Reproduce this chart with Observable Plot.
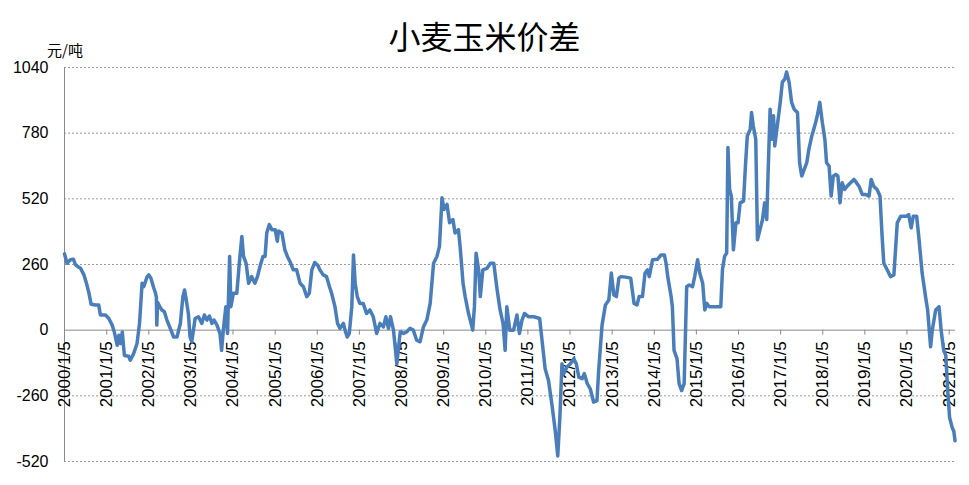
<!DOCTYPE html>
<html><head><meta charset="utf-8">
<script src="https://cdn.jsdelivr.net/npm/d3@7"></script>
<script src="https://cdn.jsdelivr.net/npm/@observablehq/plot@0.6"></script>
<style>
body{margin:0;background:#fff;font-family:"Liberation Sans",Arial,sans-serif;}
#wrap{width:969px;height:485px;position:relative;overflow:hidden;background:#fff}
#head{height:56px;position:relative}
#title{position:absolute;left:0;width:969px;top:17px;text-align:center;font-family:"Noto Sans CJK SC",sans-serif;font-size:32px;line-height:36px;color:#000}
#unit{position:absolute;left:47px;top:41px;font-family:"Noto Sans CJK SC",sans-serif;font-size:15px;line-height:18px;color:#000}
</style></head>
<body><div id="wrap"><div id="head"><div id="title">小麦玉米价差</div><div id="unit">元/吨</div></div><div id="chart"></div></div>
<script>
// decimal year, counted from 1/5 of each year
const years = [
2000.00,2000.06,2000.14,2000.21,2000.26,2000.34,2000.38,2000.46,2000.52,2000.58,2000.63,2000.73,2000.81,2000.85,2000.97,
2001.05,2001.13,2001.18,2001.25,2001.29,2001.33,2001.37,2001.42,2001.52,2001.56,2001.64,2001.72,2001.78,2001.84,2001.88,2001.96,
2002.00,2002.05,2002.12,2002.16,2002.18,2002.19,2002.21,2002.26,2002.31,2002.37,2002.43,2002.51,2002.59,2002.67,2002.75,2002.81,2002.85,2002.89,2002.94,2002.98,
2003.02,2003.06,2003.10,2003.18,2003.26,2003.32,2003.38,2003.44,2003.50,2003.55,2003.62,2003.69,2003.73,2003.77,2003.83,2003.87,2003.92,2003.95,
2004.01,2004.09,2004.15,2004.21,2004.25,2004.31,2004.37,2004.44,2004.52,2004.58,2004.64,2004.71,2004.76,2004.80,2004.86,2004.92,
2005.00,2005.05,2005.08,2005.16,2005.23,2005.29,2005.35,2005.43,2005.51,2005.59,2005.67,2005.75,2005.81,2005.87,2005.94,
2006.02,2006.06,2006.14,2006.22,2006.29,2006.34,2006.42,2006.48,2006.54,2006.62,2006.66,2006.71,2006.76,2006.82,2006.86,2006.90,2006.95,
2007.01,2007.09,2007.17,2007.25,2007.33,2007.41,2007.49,2007.57,2007.63,2007.69,2007.74,2007.81,2007.89,2007.97,
2008.05,2008.12,2008.20,2008.28,2008.36,2008.44,2008.52,2008.60,2008.68,2008.76,2008.84,2008.90,2008.96,
2009.01,2009.08,2009.14,2009.22,2009.27,2009.35,2009.39,2009.46,2009.51,2009.59,2009.65,2009.69,2009.73,2009.77,2009.83,2009.87,2009.93,
2010.03,2010.11,2010.19,2010.27,2010.34,2010.41,2010.46,2010.50,2010.57,2010.66,2010.74,2010.80,2010.86,2010.92,
2011.02,2011.14,2011.28,2011.31,2011.41,2011.49,2011.57,2011.65,2011.71,2011.76,2011.81,2011.85,2011.93,
2012.01,2012.09,2012.15,2012.21,2012.29,2012.34,2012.41,2012.48,2012.56,2012.64,2012.68,2012.76,2012.84,2012.92,2012.98,
2013.04,2013.10,2013.16,2013.21,2013.32,2013.44,2013.52,2013.59,2013.64,2013.72,2013.78,2013.84,2013.88,2013.96,
2014.08,2014.16,2014.24,2014.28,2014.32,2014.40,2014.43,2014.47,2014.54,2014.59,2014.65,2014.71,2014.77,2014.83,2014.91,2014.96,
2015.03,2015.08,2015.15,2015.20,2015.25,2015.30,2015.38,2015.50,2015.58,2015.62,2015.67,2015.72,2015.75,2015.79,2015.83,2015.88,2015.94,2015.99,
2016.04,2016.12,2016.17,2016.21,2016.28,2016.31,2016.35,2016.41,2016.45,2016.51,2016.57,2016.62,2016.67,2016.70,2016.75,2016.78,2016.83,2016.86,2016.92,2016.99,
2017.04,2017.10,2017.14,2017.20,2017.26,2017.32,2017.40,2017.45,2017.50,2017.56,2017.62,2017.67,2017.74,2017.81,2017.87,2017.93,2017.99,
2018.05,2018.09,2018.15,2018.20,2018.25,2018.31,2018.36,2018.41,2018.46,2018.52,2018.58,2018.66,2018.74,2018.80,2018.86,2018.94,
2019.02,2019.10,2019.15,2019.21,2019.29,2019.36,2019.41,2019.45,2019.53,2019.61,2019.69,2019.77,2019.85,2019.93,2019.99,
2020.04,2020.10,2020.15,2020.23,2020.28,2020.36,2020.44,2020.49,2020.56,2020.60,2020.68,2020.76,2020.81,2020.87,2020.92,2020.97,
2021.01,2021.07,2021.11,2021.14
];
const values = [
302,265,279,281,259,249,245,219,186,146,103,100,100,60,60,
46,20,-7,-60,-20,-53,-7,-100,-103,-119,-93,-53,27,186,172,212,
219,206,166,146,130,20,110,93,80,73,40,7,-27,-27,27,133,159,119,66,-27,
-46,0,46,53,27,60,40,56,27,40,20,-13,-80,0,93,-13,292,93,
146,146,265,371,292,265,186,212,186,212,252,292,292,385,418,398,
398,352,393,385,318,292,272,239,239,186,172,133,146,239,268,
255,239,219,212,172,146,93,27,7,27,0,-27,-13,93,298,186,133,
106,106,66,80,53,-13,27,13,53,7,53,0,-133,-7,
-13,-7,7,0,-40,-46,13,40,106,265,292,332,524,
478,498,425,438,385,398,332,186,133,66,27,0,93,305,239,133,239,
245,265,265,159,80,27,-80,93,0,0,60,-13,40,66,
53,53,46,0,-153,-199,-292,-398,-498,-345,-133,-172,-146,
-133,-113,-133,-186,-192,-172,-212,-232,-285,-279,-159,20,100,119,226,
139,133,206,212,210,206,106,100,133,133,226,239,212,279,
281,298,298,265,212,133,93,-80,-113,-212,-239,-212,172,179,172,212,
279,226,186,80,106,93,93,93,93,239,292,305,723,557,531,318,425,425,
504,511,663,769,796,862,809,756,358,398,438,504,438,610,875,756,849,729,809,902,
982,995,1022,982,902,875,862,663,610,637,663,716,769,809,849,902,822,
756,663,650,531,610,617,610,504,584,557,570,584,597,584,570,537,
537,531,597,570,557,531,371,265,239,212,219,425,451,451,451,
458,405,451,451,371,226,133,80,-66,0,80,93,0,-80,-100,-250,
-345,-385,-400,-438
];
const tickYears = [2000,2001,2002,2003,2004,2005,2006,2007,2008,2009,2010,2011,2012,2013,2014,2015,2016,2017,2018,2019,2020,2021];
const tickLabels = ["2000/1/5","2001/1/5","2002/1/5","2003/1/5","2004/1/5","2005/1/5","2006/1/5","2007/1/5","2008/1/5","2009/1/5","2010/1/5","2011/1/5","2012/1/5","2013/1/5","2014/1/5","2015/1/5","2016/1/5","2017/1/5","2018/1/5","2019/1/5","2020/1/5","2021/1/5"];
const yTicks = [-520,-260,0,260,520,780,1040];

function toDate(t){
  const y = Math.floor(t + 1e-9);
  const a = Date.UTC(y,0,5), b = Date.UTC(y+1,0,5);
  return new Date(a + (t - y) * (b - a));
}
const series = years.map((t,i)=>({date: toDate(t), value: values[i]}));
const ticks = tickYears.map((y,i)=>({date: new Date(Date.UTC(y,0,5)), label: tickLabels[i]}));
const xStart = new Date(Date.UTC(2000,0,5));
const xEnd = new Date(Date.UTC(2021,2,1));

const chart = Plot.plot({
  width: 969, height: 429,
  marginTop: 11, marginBottom: 24, marginLeft: 64, marginRight: 14,
  style: {fontFamily: "'Liberation Sans', Arial, sans-serif", fontSize: "16px", color: "#000", background: "#fff", overflow: "visible"},
  x: {type: "utc", domain: [xStart, xEnd], axis: null},
  y: {domain: [-520, 1040], ticks: yTicks, tickSize: 0, tickPadding: 16, tickFormat: d => String(d), label: null},
  marks: [
    Plot.ruleY(yTicks.filter(d => d !== 0), {stroke: "#9a9a9a", strokeDasharray: "2,2", strokeWidth: 1}),
    Plot.ruleX([xStart], {stroke: "#8a8a8a", strokeWidth: 1}),
    Plot.ruleY([0], {stroke: "#8a8a8a", strokeWidth: 1}),
    Plot.ruleX(ticks, {x: "date", y1: () => 0, y2: () => 0, insetBottom: -5, stroke: "#8a8a8a", strokeWidth: 1}),
    Plot.text(ticks, {x: "date", y: () => 0, text: "label", rotate: -90, textAnchor: "end", dy: 11, fontSize: 17, fill: "#000"}),
    Plot.line(series, {x: "date", y: "value", stroke: "#4a7ebb", strokeWidth: 3.5, strokeLinejoin: "round", strokeLinecap: "round"})
  ]
});
document.getElementById("chart").appendChild(chart);
</script>
</body></html>
